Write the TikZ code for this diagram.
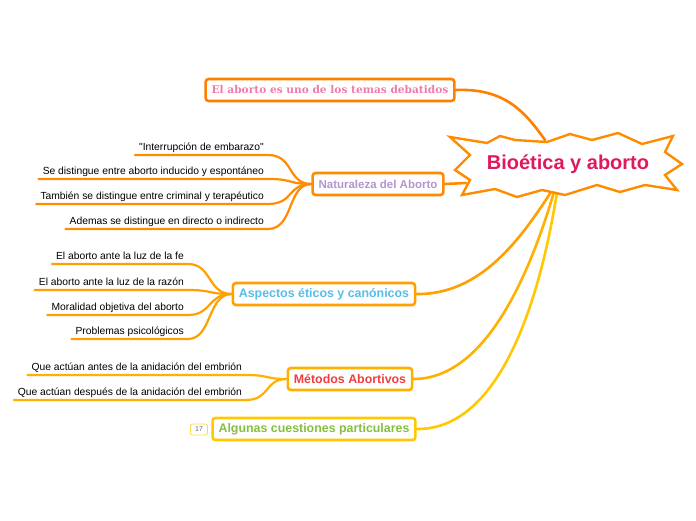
\documentclass[tikz,border=0pt]{standalone}
\usepackage{fontspec}
\setmainfont{Liberation Sans}[Ligatures=TeXOff]
\newfontfamily\boxserif{DejaVu Serif}
\usepackage{xcolor}
\definecolor{mmorange}{HTML}{FF7F00}
\definecolor{mmdark}{HTML}{FF8C00}
\definecolor{mmamber}{HTML}{FFA000}
\definecolor{mmgold}{HTML}{FFB000}
\definecolor{mmyellow}{HTML}{FFC800}
\definecolor{mmcrimson}{HTML}{E0185F}
\definecolor{mmpink}{HTML}{F07BAA}
\definecolor{mmlilac}{HTML}{B495CF}
\definecolor{mmsky}{HTML}{55BEEA}
\definecolor{mmred}{HTML}{EE3F3F}
\definecolor{mmgreen}{HTML}{86BF3F}
\usepackage{tikz}
\usetikzlibrary{positioning, calc}

\begin{document}
\begin{tikzpicture}[x=1pt, y=-1pt,
  topic/.style={rectangle, rounded corners=3pt, draw=#1, line width=2.6pt,
                fill=white, inner xsep=6pt, minimum height=22pt,
                font=\fontsize{12.4}{14}\selectfont\bfseries},
  leaf/.style={anchor=south east, inner xsep=4pt, inner ysep=2pt,
               text depth=2.5pt, font=\fontsize{10.3}{12}\selectfont},
  link/.style={draw=#1, line width=2.6pt, line cap=round},
  twig/.style={draw=#1, line width=2.2pt, line cap=round},
  rootstar/.style={draw=mmdark, line width=2.4pt, fill=white},
  tag/.style={draw=mmyellow!70, rounded corners=2pt, line width=0.8pt,
              font=\fontsize{7}{8}\selectfont, text=black!60,
              minimum width=17pt, minimum height=11pt, inner sep=1pt}
]
\useasboundingbox (0,0) rectangle (696,520);

% Hub points inside the starburst
\coordinate (hubtop) at (545,140);
\coordinate (hubleft) at (466,183);
\coordinate (hubbot1) at (551,192);
\coordinate (hubbot2) at (554,192);
\coordinate (hubbot3) at (557,192);

% Topic 1: El aborto es uno de los temas debatidos
\node[topic=mmorange, text=mmpink, font=\boxserif\fontsize{10.6}{12}\selectfont\bfseries]
  (debate) at (330,90) {El aborto es uno de los temas debatidos};

% Topic 2: Naturaleza del Aborto
\node[topic=mmdark, text=mmlilac, font=\fontsize{11.5}{13}\selectfont\bfseries]
  (natur) at (378,184) {Naturaleza del Aborto};
\node[leaf] (nat1) at (268,155) {"Interrupción de embarazo"};
\node[leaf] (nat2) at (268,179) {Se distingue entre aborto inducido y espontáneo};
\node[leaf] (nat3) at (268,204) {También se distingue entre criminal y terapéutico};
\node[leaf] (nat4) at (268,229) {Ademas se distingue en directo o indirecto};

% Topic 3: Aspectos eticos y canonicos
\node[topic=mmamber, text=mmsky] (etica) at (324,294) {Aspectos éticos y canónicos};
\node[leaf] (eti1) at (188,264) {El aborto ante la luz de la fe};
\node[leaf] (eti2) at (188,290) {El aborto ante la luz de la razón};
\node[leaf] (eti3) at (188,315) {Moralidad objetiva del aborto};
\node[leaf] (eti4) at (188,339) {Problemas psicológicos};

% Topic 4: Metodos Abortivos
\node[topic=mmgold, text=mmred] (metodo) at (350,379) {Métodos Abortivos};
\node[leaf] (met1) at (246,375) {Que actúan antes de la anidación del embrión};
\node[leaf] (met2) at (246,400) {Que actúan después de la anidación del embrión};

% Topic 5: Algunas cuestiones particulares
\node[topic=mmyellow, text=mmgreen] (cuest) at (314,429) {Algunas cuestiones particulares};
\node[tag] (count) at (199,429.5) {17};

% Leaf connectors
\foreach \n in {nat1,nat2,nat3,nat4}
  \draw[twig=mmdark] (\n.south west) -- (\n.south east)
    .. controls +(26,0) and +(-24,0) .. (natur.west);
\foreach \n in {eti1,eti2,eti3,eti4}
  \draw[twig=mmamber] (\n.south west) -- (\n.south east)
    .. controls +(24,0) and +(-24,0) .. (etica.west);
\foreach \n in {met1,met2}
  \draw[twig=mmgold] (\n.south west) -- (\n.south east)
    .. controls +(24,0) and +(-22,0) .. (metodo.west);

% Topic connectors
\draw[link=mmorange] (debate.east) .. controls (505,88) and (525,112) .. (hubtop);
\draw[link=mmdark] (natur.east) -- (hubleft);
\draw[link=mmamber] (etica.east) .. controls (480,295) and (520,240) .. (hubbot1);
\draw[link=mmgold] (metodo.east) .. controls (480,379) and (525,290) .. (hubbot2);
\draw[link=mmyellow] (cuest.east) .. controls (500,430) and (540,300) .. (hubbot3);

% Root
\draw[rootstar] (450,137) -- (487,143) -- (500,136) -- (515,140) -- (547,142)
  -- (570,134) -- (592,140) -- (618,133) -- (642,144) -- (673,136)
  -- (665,152) -- (682,164) -- (665,175) -- (677,190) -- (645,185)
  -- (620,192) -- (597,185) -- (565,195) -- (542,190) -- (517,197)
  -- (495,189) -- (462,195) -- (470,180) -- (455,170) -- (470,155) -- cycle;
\node[text=mmcrimson, font=\fontsize{20}{22}\selectfont\bfseries]
  (root) at (568,164) {Bioética y aborto};
\end{tikzpicture}
\end{document}
